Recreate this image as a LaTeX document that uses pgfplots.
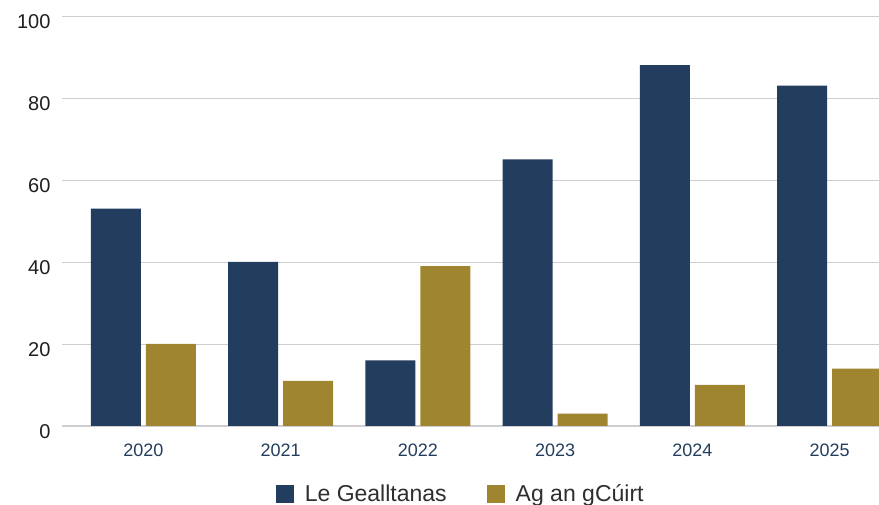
\documentclass[border=0pt]{standalone}
\usepackage{pgfplots}
\pgfplotsset{compat=1.18}
\usepackage{fontspec}
\setmainfont{Liberation Sans}
\definecolor{navy}{HTML}{233D5F}
\definecolor{gold}{HTML}{A08530}
\definecolor{gridc}{HTML}{CDCDD2}
\begin{document}
\begin{tikzpicture}[x=1pt,y=1pt]
\useasboundingbox (0,0) rectangle (879,505);
\begin{axis}[
  at={(62pt,79pt)}, anchor=south west, scale only axis,
  width=817pt, height=410pt,
  xmin=-0.593, xmax=5.36, ymin=0, ymax=100,
  ybar, bar width=0.364,
  axis x line*=bottom, axis y line*=left,
  y axis line style={draw=none},
  x axis line style={draw=gridc, line width=1.2pt},
  major tick length=0,
  ytick={0,20,40,60,80,100},
  xtick={0,1,2,3,4,5},
  xticklabels={2020,2021,2022,2023,2024,2025},
  ymajorgrids, grid style={draw=gridc, line width=0.8pt},
  /pgf/number format/assume math mode=true,
  yticklabel style={font=\fontsize{20}{20}\selectfont, text=black!88, anchor=east, xshift=-8pt, yshift=-6pt},
  xticklabel style={font=\fontsize{18}{18}\selectfont, text=navy, yshift=-14pt},
  legend style={at={(0.488,-0.165)}, anchor=center, draw=none, fill=none,
    legend columns=2, font=\fontsize{23}{23}\selectfont, text=black!82,
    /tikz/every odd column/.append style={column sep=9pt},
    /tikz/every even column/.append style={column sep=38pt}},
  legend image code/.code={\fill[#1, draw=none] (0pt,-9pt) rectangle (18pt,9pt);},
]
\addplot[fill=navy, draw=none, bar shift=-0.2] coordinates {(0,53) (1,40) (2,16) (3,65) (4,88) (5,83)};
\addplot[fill=gold, draw=none, bar shift=0.2] coordinates {(0,20) (1,11) (2,39) (3,3) (4,10) (5,14)};
\legend{Le Gealltanas, Ag an gCúirt}
\end{axis}
\end{tikzpicture}
\end{document}
